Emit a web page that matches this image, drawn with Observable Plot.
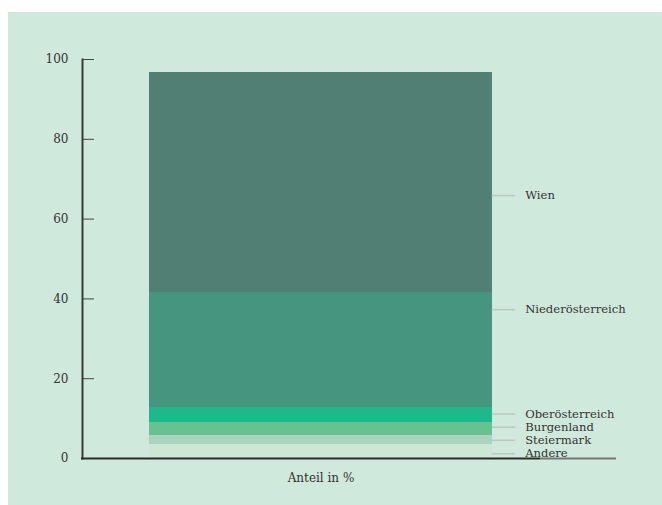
<!DOCTYPE html>
<html>
<head>
<meta charset="utf-8">
<script src="https://cdn.jsdelivr.net/npm/d3@7"></script>
<script src="https://cdn.jsdelivr.net/npm/@observablehq/plot@0.6"></script>
<style>
  html, body { margin: 0; padding: 0; background: #ffffff; }
  #panel { position: absolute; left: 8px; top: 12px; right: 0; bottom: 0; background: #cfeadc; }
  #chart { position: absolute; left: 0; top: 0; }
</style>
</head>
<body>
<div id="panel"></div>
<div id="chart"></div>
<script>
// Share of each Bundesland, stacked bottom to top (in %)
const category = "Anteil in %";
const regions = ["Andere", "Steiermark", "Burgenland", "Oberösterreich", "Niederösterreich", "Wien"];
const shares = [3.6, 2.2, 3.3, 3.8, 28.7, 55.1];
// Where each region's label sits on the percent axis
const labelAnchor = [1.2, 4.55, 7.85, 11.15, 37.3, 65.9];
const regionColors = ["#cde7d7", "#aad4bb", "#67c28f", "#1cb98a", "#45957f", "#527f74"];
const yTicks = [0, 20, 40, 60, 80, 100];

const rows = regions.map((region, i) => ({category, region, share: shares[i], anchor: labelAnchor[i]}));

// Layout
const width = 662, height = 505;
const marginLeft = 82, marginRight = 104, marginTop = 59, marginBottom = 47;
const frameW = width - marginLeft - marginRight;
const bandPadding = 0.162;
const step = frameW / (1 + bandPadding);
const barLeft = step * bandPadding;
const barWidth = step * (1 - bandPadding);
const barRight = barLeft + barWidth;
const barCenter = barLeft + barWidth / 2;
const leaderLength = 23.5;
const labelGap = 9;
const tickLength = 12;
const axisDarkEnd = 458;   // dark baseline length from the frame's left edge
const axisGreyEnd = 534;   // grey continuation under the labels

const chart = Plot.plot({
  width, height, marginLeft, marginRight, marginTop, marginBottom,
  style: {background: "transparent", fontFamily: "DejaVu Serif", fontSize: "12px", color: "#333"},
  x: {domain: [category], padding: bandPadding, label: null},
  y: {domain: [0, 100], label: null},
  color: {domain: regions, range: regionColors},
  marks: [
    Plot.barY(rows, {x: "category", y: "share", fill: "region", shapeRendering: "crispEdges"}),
    // leader lines from the bar to the labels
    Plot.ruleY(rows, {y: "anchor", stroke: "#bfc7c3", strokeWidth: 1.5,
      insetLeft: barRight, insetRight: frameW - barRight - leaderLength}),
    Plot.text(rows, {x: "category", y: "anchor", text: "region", textAnchor: "start",
      dx: barRight + leaderLength + labelGap - barCenter, fill: "#333", fontSize: 11.6}),
    // axes
    Plot.axisY({ticks: yTicks, tickSize: 0, tickPadding: 14, fontSize: 12, label: null}),
    Plot.ruleY(yTicks, {stroke: "#444", strokeWidth: 1, insetRight: frameW - tickLength}),
    Plot.axisX({tickSize: 0, tickPadding: 15, fontSize: 12, label: null}),
    Plot.frame({anchor: "left", stroke: "#3a3a3a", strokeWidth: 2}),
    Plot.ruleY([0], {stroke: "#777", strokeWidth: 2, insetLeft: axisDarkEnd, insetRight: frameW - axisGreyEnd}),
    Plot.ruleY([0], {stroke: "#2b2b2b", strokeWidth: 2, insetLeft: -1, insetRight: frameW - axisDarkEnd})
  ]
});

document.getElementById("chart").append(chart);
</script>
</body>
</html>
